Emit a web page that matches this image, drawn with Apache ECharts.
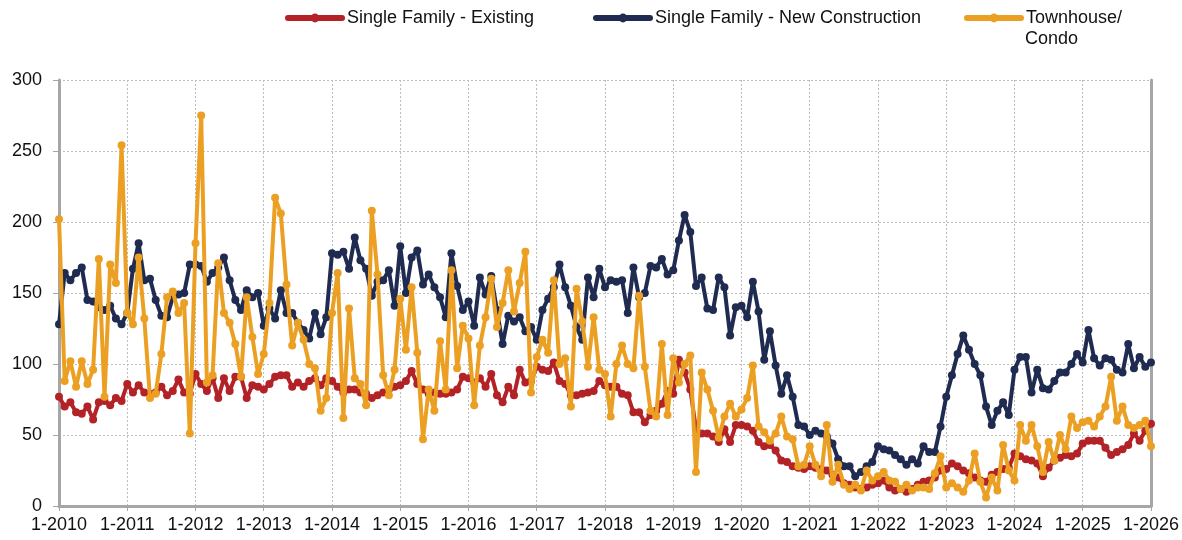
<!DOCTYPE html>
<html>
<head>
<meta charset="utf-8">
<script src="https://cdn.jsdelivr.net/npm/echarts@6/dist/echarts.min.js"></script>
<style>
html,body{margin:0;padding:0;background:#fff;}
#chart{width:1182px;height:540px;}
</style>
</head>
<body>
<div id="chart"></div>
<script>
// Monthly categories 1-2010 .. 1-2026
const startYear = 2010, endYear = 2026;
const months = [];
for (let y = startYear; y <= endYear; y++) {
  for (let m = 1; m <= 12; m++) {
    if (y === endYear && m > 1) break;
    months.push(m + '-' + y);
  }
}

const seriesNames = ['Single Family - Existing', 'Single Family - New Construction', 'Townhouse/Condo'];
const legendLabels = ['Single Family - Existing', 'Single Family - New Construction', 'Townhouse/'];
const legendSecondLine = 'Condo';

const existing = [
  77, 70, 73, 66, 65, 70, 61, 73, 74, 71, 76, 74,
  86, 80, 85, 80, 79, 80, 84, 78, 81, 89, 80, 79,
  93, 86, 81, 90, 76, 90, 81, 91, 91, 76, 85, 84,
  82, 86, 91, 92, 92, 84, 87, 84, 88, 90, 85, 90,
  88, 84, 80, 82, 82, 80, 79, 76, 78, 80, 82, 84,
  85, 88, 95, 86, 82, 79, 80, 79, 79, 80, 82, 91,
  90, 87, 90, 84, 93, 78, 73, 84, 78, 96, 87, 88,
  98, 96, 95, 101, 88, 86, 78, 78, 79, 80, 81, 88,
  85, 84, 84, 79, 78, 66, 66, 59, 64, 67, 72, 81,
  79, 103, 94, 82, 54, 51, 51, 49, 45, 54, 45, 57,
  57, 56, 53, 45, 42, 43, 39, 32, 31, 28, 27, 26,
  28, 27, 26, 25, 22, 20, 16, 15, 13, 12, 13, 15,
  16, 18, 13, 11, 12, 10, 12, 15, 17, 18, 20, 25,
  26, 30, 28, 25, 23, 20, 18, 17, 22, 24, 26, 27,
  37, 35, 33, 32, 30, 21, 27, 32, 34, 36, 35, 37,
  44, 46, 46, 46, 41, 36, 38, 40, 43, 51, 46, 53,
  58
];

const newConstruction = [
  128, 164, 159, 164, 168, 145, 144, 140, 138, 141, 132, 128,
  136, 167, 185, 159, 160, 145, 134, 133, 147, 149, 150, 170,
  170, 169, 158, 164, 168, 175, 159, 145, 138, 152, 147, 150,
  127, 139, 132, 152, 136, 136, 129, 124, 118, 136, 121, 133,
  178, 177, 179, 167, 189, 173, 167, 148, 158, 159, 166, 141,
  183, 150, 175, 180, 156, 163, 154, 147, 133, 178, 155, 138,
  144, 127, 161, 149, 162, 138, 114, 134, 130, 133, 123, 126,
  117, 138, 146, 154, 170, 154, 141, 126, 117, 161, 147, 167,
  154, 159, 158, 159, 136, 168, 147, 150, 169, 168, 174, 163,
  166, 187, 205, 193, 155, 161, 139, 138, 161, 154, 120, 140,
  141, 133, 158, 137, 103, 123, 99, 79, 92, 77, 57, 56,
  50, 53, 51, 49, 44, 33, 28, 28, 21, 24, 28, 31,
  42, 40, 39, 36, 33, 29, 33, 30, 42, 38, 38, 56,
  77, 92, 107, 120, 110, 100, 92, 70, 57, 67, 73, 64,
  96, 105, 105, 80, 96, 83, 82, 88, 94, 94, 100, 107,
  101, 124, 104, 99, 104, 103, 96, 94, 114, 97, 105, 98,
  101
];

const townhouse = [
  202, 88, 102, 84, 102, 86, 96, 174, 77, 170, 157, 254,
  136, 128, 175, 132, 76, 79, 107, 147, 151, 136, 143, 51,
  185, 275, 87, 92, 171, 136, 129, 114, 91, 147, 119, 93,
  107, 143, 217, 206, 156, 113, 129, 117, 100, 97, 67, 76,
  136, 164, 62, 139, 90, 86, 71, 208, 163, 92, 78, 96,
  146, 110, 154, 108, 47, 82, 67, 116, 82, 166, 97, 127,
  118, 71, 113, 133, 160, 126, 143, 166, 137, 157, 179, 80,
  105, 117, 108, 159, 100, 104, 70, 153, 130, 98, 133, 96,
  93, 63, 100, 113, 100, 97, 148, 98, 67, 63, 114, 64,
  104, 87, 100, 106, 24, 94, 82, 67, 48, 63, 72, 63,
  68, 76, 99, 56, 52, 46, 51, 63, 49, 47, 28, 29,
  42, 29, 21, 57, 17, 29, 15, 12, 15, 11, 25, 18,
  21, 24, 18, 17, 12, 15, 11, 13, 13, 12, 23, 35,
  13, 16, 13, 10, 18, 37, 17, 6, 20, 11, 43, 25,
  18, 57, 46, 57, 42, 24, 45, 32, 50, 40, 63, 55,
  59, 60, 56, 63, 70, 91, 60, 70, 57, 55, 57, 60,
  42
];

const yTicks = { min: 0, max: 300, interval: 50 };
const colors = ['#B32226', '#1F2B50', '#EBA024'];
const legendLefts = [285, 593, 964];

const chart = echarts.init(document.getElementById('chart'), null, { renderer: 'canvas' });
const font = 'Liberation Sans, Arial, Helvetica, sans-serif';
const axisGrey = '#A6A6A6';

function mkSeries(name, data, color, z) {
  return {
    name: name, type: 'line', data: data,
    symbol: 'circle', symbolSize: 8, showSymbol: true, showAllSymbol: true,
    itemStyle: { color: color },
    lineStyle: { color: color, width: 4 },
    z: z, animation: false
  };
}

const option = {
  animation: false,
  backgroundColor: '#fff',
  textStyle: { fontFamily: font },
  grid: { left: 59, right: 27, top: 80, bottom: 34, containLabel: false },
  legend: seriesNames.map((n, i) => ({
    data: [n],
    left: legendLefts[i],
    top: 9,
    itemWidth: 54,
    itemHeight: 11,
    padding: 0,
    selectedMode: false,
    lineStyle: { width: 6, cap: 'round' },
    formatter: () => legendLabels[i],
    textStyle: { fontFamily: font, fontSize: 18, color: '#111' }
  })),
  graphic: [{
    type: 'text', left: 1025, top: 30,
    style: { text: legendSecondLine, fontFamily: font, fontSize: 18, fill: '#111' }
  }],
  xAxis: {
    type: 'category',
    data: months,
    boundaryGap: false,
    axisLine: { show: true, lineStyle: { color: axisGrey, width: 3 } },
    axisTick: { show: true, interval: 11, length: 5, lineStyle: { color: axisGrey, width: 1 } },
    axisLabel: { interval: 11, fontSize: 18, color: '#111', margin: 10, fontFamily: font },
    splitLine: { show: true, interval: 11, lineStyle: { color: '#BDBDBD', type: [2, 2], width: 1 } }
  },
  yAxis: [{
    type: 'value',
    min: yTicks.min, max: yTicks.max, interval: yTicks.interval,
    axisLine: { show: true, lineStyle: { color: axisGrey, width: 3 } },
    axisTick: { show: true, length: 6, lineStyle: { color: axisGrey, width: 1 } },
    axisLabel: { fontSize: 18, color: '#111', margin: 17, fontFamily: font },
    splitLine: { show: true, lineStyle: { color: '#BDBDBD', type: [2, 2], width: 1 } }
  }, {
    type: 'value', position: 'right',
    min: yTicks.min, max: yTicks.max, interval: yTicks.interval,
    axisLine: { show: true, lineStyle: { color: axisGrey, width: 3 } },
    axisTick: { show: false }, axisLabel: { show: false }, splitLine: { show: false }
  }],
  series: [
    mkSeries(seriesNames[0], existing, colors[0], 2),
    mkSeries(seriesNames[1], newConstruction, colors[1], 3),
    mkSeries(seriesNames[2], townhouse, colors[2], 4)
  ]
};
chart.setOption(option);
</script>
</body>
</html>
